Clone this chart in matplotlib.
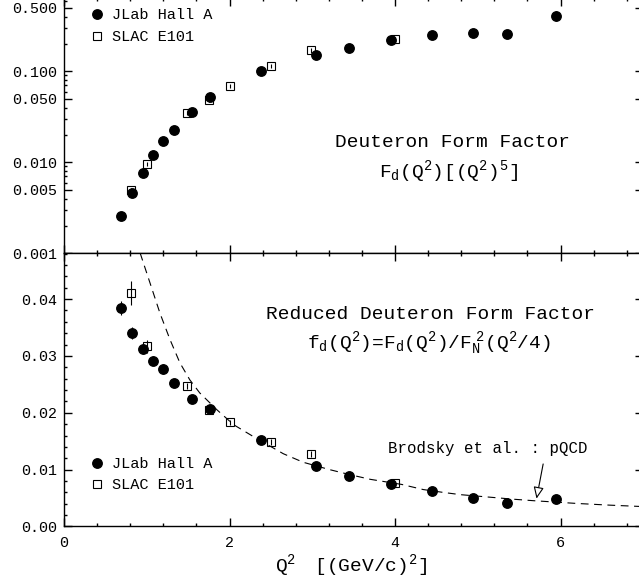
import matplotlib
matplotlib.use("Agg")
import matplotlib.pyplot as plt
from matplotlib.ticker import MultipleLocator, LogLocator, NullFormatter

plt.rcParams['font.family'] = ['Liberation Mono', 'DejaVu Sans']
plt.rcParams['mathtext.default'] = 'regular'

# JLab Hall A data
q2_jlab = [0.69, 0.82, 0.95, 1.08, 1.20, 1.33, 1.55, 1.77, 2.38, 3.04,
           3.44, 3.95, 4.45, 4.94, 5.35, 5.94]
Fd_jlab = [0.00255, 0.0046, 0.0076, 0.0119, 0.0172, 0.0229, 0.0354, 0.0525,
           0.1017, 0.151, 0.179, 0.221, 0.250, 0.264, 0.259, 0.406]
Fd_jlab_err = [0.0001, 0.0002, 0.0003, 0.0004, 0.0006, 0.0008, 0.0012, 0.0018,
               0.004, 0.006, 0.007, 0.009, 0.011, 0.014, 0.016, 0.05]
fd_jlab = [0.0384, 0.0340, 0.0312, 0.0292, 0.0277, 0.0253, 0.0225, 0.0206,
           0.0152, 0.0106, 0.0088, 0.00748, 0.0062, 0.0050, 0.00405, 0.00485]
fd_jlab_err = [0.0012, 0.0011, 0.0009, 0.0008, 0.0008, 0.0007, 0.0007, 0.0006,
               0.0005, 0.0005, 0.0004, 0.0004, 0.0004, 0.0003, 0.0003, 0.0005]

# SLAC E101 data
q2_slac = [0.81, 1.00, 1.49, 1.75, 2.00, 2.50, 2.99, 4.00]
Fd_slac = [0.0050, 0.0095, 0.0345, 0.049, 0.069, 0.115, 0.170, 0.229]
Fd_slac_err = [0.00025, 0.0005, 0.0017, 0.0025, 0.0035, 0.006, 0.009, 0.011]
fd_slac = [0.0411, 0.0317, 0.0247, 0.0205, 0.0183, 0.0149, 0.0127, 0.00764]
fd_slac_err = [0.0021, 0.0011, 0.0005, 0.0005, 0.0005, 0.0005, 0.0005, 0.0004]

# pQCD prediction (Brodsky et al.)
pqcd_q2 = [0.92, 1.04, 1.16, 1.28, 1.40, 1.52, 1.64, 1.85, 2.05, 2.29, 2.65,
           2.89, 3.21, 3.46, 3.70, 4.08, 4.34, 4.58, 4.79, 5.11, 5.43, 5.67,
           6.20, 6.60, 7.00]
pqcd_fd = [0.0481, 0.0428, 0.0375, 0.0329, 0.0288, 0.0258, 0.0235, 0.0205,
           0.0179, 0.0158, 0.0128, 0.0113, 0.0100, 0.0091, 0.0083, 0.0074,
           0.0065, 0.0060, 0.0056, 0.0052, 0.0048, 0.00454, 0.00405, 0.00375,
           0.0035]

top_ticks = [0.001, 0.005, 0.01, 0.05, 0.1, 0.5]
top_labels = ['0.001', '0.005', '0.010', '0.050', '0.100', '0.500']
bot_ticks = [0.0, 0.01, 0.02, 0.03, 0.04]
bot_labels = ['0.00', '0.01', '0.02', '0.03', '0.04']
x_ticks = [0, 2, 4, 6]

fig = plt.figure(figsize=(6.39, 5.79), dpi=100)
ax_top = fig.add_axes([0.1002, 0.5625, 0.9065, 0.4409])
ax_bot = fig.add_axes([0.1002, 0.0907, 0.9065, 0.4719])

for ax in (ax_top, ax_bot):
    ax.set_xlim(0, 7)
    ax.set_xticks(x_ticks)
    ax.xaxis.set_minor_locator(MultipleLocator(0.4))
    ax.tick_params(which='both', direction='in', top=True, right=True,
                   width=1.0, labelsize=10.8, pad=5)
    ax.tick_params(which='major', length=6)
    ax.tick_params(which='minor', length=2.5)
    ax.tick_params(axis='y', which='minor', right=False)
    for sp in ax.spines.values():
        sp.set_linewidth(1.0)


def draw_points(ax, y_slac, e_slac, y_jlab, e_jlab):
    sl = ax.errorbar(q2_slac, y_slac, yerr=e_slac, fmt='s', ms=5.6, mfc='none',
                     mec='black', mew=0.8, ecolor='black', elinewidth=0.8,
                     capsize=0)
    jl = ax.errorbar(q2_jlab, y_jlab, yerr=e_jlab, fmt='o', ms=6.8,
                     color='black', elinewidth=0.8, capsize=0)
    return jl[0], sl[0]


# upper panel: F_d * (Q^2)^5
ax_top.set_yscale('log')
ax_top.set_ylim(0.001, 0.639)
ax_top.set_yticks(top_ticks, top_labels)
ax_top.yaxis.set_minor_locator(LogLocator(base=10, subs=(2, 3, 4, 6, 7, 8, 9)))
ax_top.yaxis.set_minor_formatter(NullFormatter())
ax_top.tick_params(labelbottom=False)
h = draw_points(ax_top, Fd_slac, Fd_slac_err, Fd_jlab, Fd_jlab_err)
ax_top.legend(h, ['JLab Hall A', 'SLAC E101'], loc='upper left',
              bbox_to_anchor=(0.044, 0.959), frameon=False, borderpad=0,
              borderaxespad=0, handlelength=1.0, handletextpad=0.5,
              labelspacing=0.5, fontsize=11)
ax_top.text(0.671, 0.4164, 'Deuteron Form Factor', transform=ax_top.transAxes,
            ha='center', va='baseline', fontsize=14)
ax_top.text(0.663, 0.2989, r'$F_d(Q^2)[(Q^2)^5]$', transform=ax_top.transAxes,
            ha='center', va='baseline', fontsize=14)

# lower panel: reduced form factor
ax_bot.set_ylim(0, 0.04807)
ax_bot.set_yticks(bot_ticks, bot_labels)
ax_bot.yaxis.set_minor_locator(MultipleLocator(0.002))
ax_bot.plot(pqcd_q2, pqcd_fd, color='black', lw=0.8, dashes=(7, 5))
h = draw_points(ax_bot, fd_slac, fd_slac_err, fd_jlab, fd_jlab_err)
ax_bot.legend(h, ['JLab Hall A', 'SLAC E101'], loc='upper left',
              bbox_to_anchor=(0.044, 0.253), frameon=False, borderpad=0,
              borderaxespad=0, handlelength=1.0, handletextpad=0.5,
              labelspacing=0.45, fontsize=11)
ax_bot.text(0.6324, 0.7584, 'Reduced Deuteron Form Factor',
            transform=ax_bot.transAxes, ha='center', va='baseline', fontsize=14)
ax_bot.text(0.6304, 0.6523, r'$f_d(Q^2)$=$F_d(Q^2)/F_N^{\ 2}(Q^2/4)$',
            transform=ax_bot.transAxes, ha='center', va='baseline', fontsize=14)
ax_bot.text(0.7311, 0.268, 'Brodsky et al. : pQCD', transform=ax_bot.transAxes,
            ha='center', va='baseline', fontsize=11.3)
ax_bot.annotate('', xy=(5.71, 0.0049), xytext=(5.79, 0.0110),
                arrowprops=dict(arrowstyle='-|>,head_length=0.5,head_width=0.22',
                                fc='white', ec='black', lw=0.8,
                                mutation_scale=14, shrinkA=0, shrinkB=0))
ax_bot.tick_params(axis='x', pad=7)
ax_bot.set_xlabel(r'$Q^2\ \ \ [(GeV/c)^2]$', fontsize=14)
ax_bot.xaxis.set_label_coords(0.496, -0.096)

fig.savefig('out.png', dpi=100)
